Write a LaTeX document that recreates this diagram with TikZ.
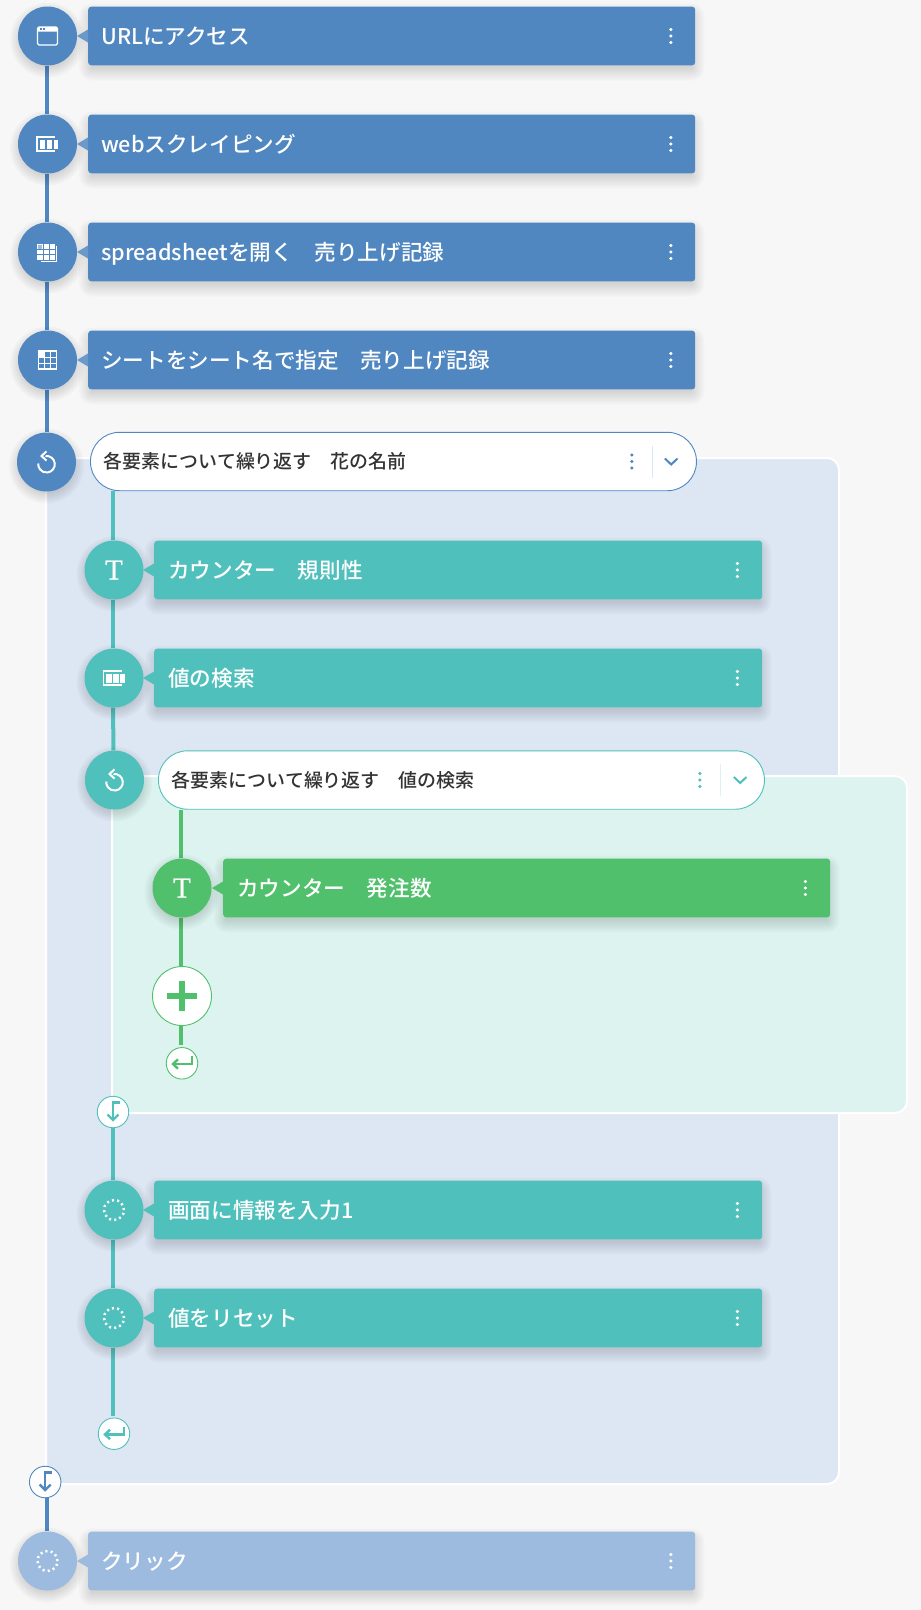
\documentclass[tikz,border=0pt]{standalone}
\usepackage{fontspec}
\setmainfont{Noto Sans CJK JP}
\newfontfamily\jpfont{Noto Sans CJK JP Medium}
\newfontfamily\tfont{Liberation Serif}[FakeBold=0.8]
\usetikzlibrary{backgrounds}
\pgfdeclarelayer{shadowlayer}
\pgfsetlayers{background,shadowlayer,main}
\definecolor{cblue}{HTML}{5087C1}
\definecolor{cteal}{HTML}{50C0BC}
\definecolor{cgreen}{HTML}{51C06C}
\definecolor{clight}{HTML}{9CBBDE}
\definecolor{pblue}{HTML}{DDE6F3}
\definecolor{pgreen}{HTML}{DCF3EF}
\definecolor{cbg}{HTML}{F7F7F7}
\definecolor{ctext}{HTML}{333333}
\tikzset{
  stepnode/.style={circle,fill=#1,draw=none,minimum size=59pt,inner sep=0pt,text=white},
  barnode/.style={rectangle,fill=#1,draw=none,rounded corners=3pt,minimum height=58.6pt,minimum width=607pt,
     inner xsep=13pt,inner ysep=0pt,text width=581pt,align=left,anchor=west,text=white,
     font=\jpfont\fontsize{21.6pt}{24pt}\selectfont,text height=18pt,text depth=2pt},
  tealbar/.style={barnode=#1,minimum width=608pt,inner xsep=14pt,text width=580pt},
  greenbar/.style={barnode=#1,minimum width=607pt,inner xsep=14pt,text width=579pt},
  pillnode/.style={rectangle,fill=white,draw=#1,line width=.9pt,rounded corners=29pt,minimum height=58.4pt,minimum width=606pt,
     inner xsep=13.5pt,inner ysep=0pt,text width=579pt,align=left,anchor=west,text=ctext,
     font=\jpfont\fontsize{18.95pt}{22pt}\selectfont,text height=16pt,text depth=2pt},
  panelnode/.style={rectangle,fill=#1,draw=white,line width=2pt,rounded corners=12pt,inner sep=0pt,anchor=north west},
  smallnode/.style={circle,fill=white,draw=#1,line width=.9pt,minimum size=31.5pt,inner sep=0pt},
  plusnode/.style={circle,fill=white,draw=#1,line width=.9pt,minimum size=59pt,inner sep=0pt},
  conn/.style={draw=#1,line width=4pt},
  iconline/.style={white,line width=1.3pt},
  shadowfill/.style={black,opacity=#1},
}
\newcommand{\barshadow}[1]{\begin{pgfonlayer}{shadowlayer}
  \foreach \k in {-3,-1,1,3,5,7,9}{\pgfmathsetmacro{\rr}{max(\k+4,1)}
   \fill[shadowfill=.02,rounded corners=\rr pt] ([shift={(-\k pt,-\k pt-6pt)}]#1.south west) rectangle ([shift={(\k pt,\k pt-6pt)}]#1.north east);}
\end{pgfonlayer}}
\newcommand{\circshadow}[1]{\begin{pgfonlayer}{shadowlayer}
  \foreach \k in {-2,0,2,4,6,8}{\pgfmathsetmacro{\rr}{29.5+\k}
   \fill[shadowfill=.022] ([yshift=-4pt]#1.center) circle (\rr pt);}
\end{pgfonlayer}}
\newcommand{\kebab}[3]{\foreach \dy in {-6.5,0,6.5}{\fill[#3] ([xshift=#2pt,yshift=\dy pt]#1.east) circle (1.7pt);}}
\newcommand{\pointer}[2]{\fill[#2] ([yshift=6.5pt]#1.west) -- ([xshift=-11pt]#1.west) -- ([yshift=-6.5pt]#1.west) -- cycle;}
\newcommand{\iconwindow}[1]{\begin{scope}[shift={(#1.center)}]
  \draw[iconline,rounded corners=1.5pt] (-10,-9) rectangle (10,9);
  \fill[white,rounded corners=1pt] (-10,4.5) rectangle (10,9);
  \fill[cblue] (-8,6) rectangle (-6,8); \fill[cblue] (-4.5,6) rectangle (-2.5,8);
\end{scope}}
\newcommand{\iconscrape}[1]{\begin{scope}[shift={(#1.center)}]
  \draw[iconline] (7.5,-7) -- (-10.5,-7) -- (-10.5,7) -- (7.5,7);
  \fill[white] (-8,-4.5) rectangle (-2.5,4.5);
  \fill[white] (-1,-4.5) rectangle (4.5,4.5);
  \fill[white] (6,-4.5) rectangle (10.5,4.5);
\end{scope}}
\newcommand{\iconopen}[1]{\begin{scope}[shift={(#1.center)}]
  \draw[white,line width=1pt] (-6.5,-9.5) -- (9,-9.5) -- (9,6);
  \fill[white] (-10.5,-8) rectangle (7.5,8);
  \foreach \gx in {-4.5,1.5}{\fill[cblue] (\gx-.3,-8) rectangle (\gx+.3,8);}
  \foreach \gy in {-2.7,2.7}{\fill[cblue] (-10.5,\gy-.3) rectangle (7.5,\gy+.3);}
  \fill[cblue!55!white] (-9.5,3.5) rectangle (-5.2,7);
\end{scope}}
\newcommand{\icongrid}[1]{\begin{scope}[shift={(#1.center)}]
  \draw[iconline] (-9,-9) rectangle (9,9);
  \foreach \gx in {-3,3}{\draw[white,line width=1pt] (\gx,-9) -- (\gx,9);}
  \foreach \gy in {-3,3}{\draw[white,line width=1pt] (-9,\gy) -- (9,\gy);}
  \fill[white] (-9,3) rectangle (-3.2,9);
\end{scope}}
\newcommand{\iconloop}[1]{\begin{scope}[shift={(#1.center)}]
  \draw[white,line width=2pt] (-1,6) arc[start angle=97,end angle=-185,radius=8.3];
  \draw[white,line width=2pt] (0,10.7) -- (-5,6) -- (0,1.4);
\end{scope}}
\newcommand{\icondots}[1]{\draw[white,line width=2.5pt,dash pattern=on 2pt off 3.23pt] (#1.center) ++(10,0) arc[start angle=0,end angle=360,radius=10];}
\newcommand{\icondown}[2]{\begin{scope}[shift={(#1.center)}]
  \draw[#2,line width=2.4pt] (6.5,9.5) -- (0,9.5) -- (0,-8);
  \draw[#2,line width=2.4pt] (-5.5,-2.5) -- (0,-8) -- (5.5,-2.5);
\end{scope}}
\newcommand{\iconback}[2]{\begin{scope}[shift={(#1.center)}]
  \draw[#2,line width=2.4pt] (10,7) -- (10,-.7) -- (-8.5,-.7);
  \draw[#2,line width=2.4pt] (-4,4) -- (-9,-.7) -- (-4,-5.4);
\end{scope}}
\newcommand{\iconchev}[3]{\draw[#3,line width=2pt] ([xshift=#2pt,yshift=3pt]#1.east) -- ++(6.3,-6) -- ++(6.3,6);}
\begin{document}
\begin{tikzpicture}[x=1pt,y=1pt]
\useasboundingbox (0,0) rectangle (921,-1610);
% top row
\node[stepnode=cblue] (s1) at (47.5,-36) {};
\node[barnode=cblue] (b1) at (88,-36) {URLにアクセス};
\node[stepnode=cblue] (s2) at (47.5,-144) {};
\node[barnode=cblue] (b2) at (88,-144) {webスクレイピング};
\node[stepnode=cblue] (s3) at (47.5,-252) {};
\node[barnode=cblue] (b3) at (88,-252) {spreadsheetを開く　売り上げ記録};
\node[stepnode=cblue] (s4) at (47.5,-360) {};
\node[barnode=cblue] (b4) at (88,-360) {シートをシート名で指定　売り上げ記録};
\node[stepnode=cblue] (s5) at (46.5,-462) {};
\node[pillnode=cblue] (p1) at (90,-461.5) {各要素について繰り返す　花の名前};
% teal row
\node[stepnode=cteal,font=\tfont\fontsize{29pt}{29pt}\selectfont] (t1) at (114,-570) {T};
\node[tealbar=cteal] (tb1) at (154,-570) {カウンター　規則性};
\node[stepnode=cteal] (t2) at (114,-678) {};
\node[tealbar=cteal] (tb2) at (154,-678) {値の検索};
\node[stepnode=cteal] (t3) at (114.5,-780) {};
\node[pillnode=cteal] (p2) at (158,-780) {各要素について繰り返す　値の検索};
% green
\node[stepnode=cgreen,font=\tfont\fontsize{29pt}{29pt}\selectfont] (g1) at (182,-888) {T};
\node[greenbar=cgreen] (gb1) at (223,-888) {カウンター　発注数};
\node[plusnode=cgreen] (plus) at (182,-996) {};
\node[smallnode=cgreen] (gret) at (182,-1063.3) {};
\node[smallnode=cteal] (tdown) at (113,-1112) {};
\node[stepnode=cteal] (t4) at (114,-1210) {};
\node[tealbar=cteal] (tb4) at (154,-1210) {画面に情報を入力1};
\node[stepnode=cteal] (t5) at (114,-1318) {};
\node[tealbar=cteal] (tb5) at (154,-1318) {値をリセット};
\node[smallnode=cteal] (tret) at (114,-1433.7) {};
\node[smallnode=cblue] (bdown) at (45.2,-1482) {};
\node[stepnode=clight] (s6) at (47.5,-1561) {};
\node[barnode=clight] (b6) at (88,-1561) {クリック};
% shadows
\barshadow{b1}\barshadow{b2}\barshadow{b3}\barshadow{b4}\barshadow{b6}
\barshadow{tb1}\barshadow{tb2}\barshadow{tb4}\barshadow{tb5}\barshadow{gb1}
\circshadow{s1}\circshadow{s2}\circshadow{s3}\circshadow{s4}\circshadow{s5}\circshadow{s6}
\circshadow{t1}\circshadow{t2}\circshadow{t3}\circshadow{t4}\circshadow{t5}\circshadow{g1}
% panels and connectors, behind the nodes
\begin{scope}[on background layer]
 \fill[cbg] (0,0) rectangle (921,-1610);
 \draw[conn=cblue] ([xshift=-.5pt]s1.south) -- ([xshift=-.5pt]s2.north);
 \draw[conn=cblue] ([xshift=-.5pt]s2.south) -- ([xshift=-.5pt]s3.north);
 \draw[conn=cblue] ([xshift=-.5pt]s3.south) -- ([xshift=-.5pt]s4.north);
 \draw[conn=cblue] ([xshift=-.5pt]s4.south) -- ([xshift=.5pt]s5.north);
 \draw[conn=cblue] ([xshift=-.5pt]s6.center |- bdown.south) -- ([xshift=-.5pt]s6.north);
 \node[panelnode=pblue,minimum width=793pt,minimum height=1026pt] (panelA) at (45,-457) {};
 \draw[conn=cteal] ([xshift=-1pt]t1.center |- p1.south) -- ([xshift=-1pt]t1.north);
 \draw[conn=cteal] ([xshift=-1pt]t1.south) -- ([xshift=-1pt]t2.north);
 \draw[conn=cteal] ([xshift=-1pt]t2.south) -- ([xshift=-1pt]t3.north);
 \draw[conn=cteal] (tdown.south) -- ([xshift=-1pt]t4.north);
 \draw[conn=cteal] ([xshift=-1pt]t4.south) -- ([xshift=-1pt]t5.north);
 \draw[conn=cteal] ([xshift=-1pt]t5.south) -- ([xshift=-1pt,yshift=2pt]tret.north);
 \node[panelnode=pgreen,minimum width=795pt,minimum height=337pt] (panelB) at (111,-775) {};
 \draw[conn=cgreen] ([xshift=-1pt]g1.center |- p2.south) -- ([xshift=-1pt]g1.north);
 \draw[conn=cgreen] ([xshift=-1pt]g1.south) -- ([xshift=-1pt]plus.north);
 \draw[conn=cgreen] ([xshift=-1pt]plus.south) -- ([xshift=-1pt,yshift=2pt]gret.north);
\end{scope}
% pointers
\pointer{b1}{cblue!85!white}\pointer{b2}{cblue!85!white}\pointer{b3}{cblue!85!white}\pointer{b4}{cblue!85!white}
\pointer{b6}{clight}
\pointer{tb1}{cteal}\pointer{tb2}{cteal}\pointer{tb4}{cteal}\pointer{tb5}{cteal}
\pointer{gb1}{cgreen}
% kebabs
\kebab{b1}{-24.5}{white}\kebab{b2}{-24.5}{white}\kebab{b3}{-24.5}{white}\kebab{b4}{-24.5}{white}\kebab{b6}{-24.5}{white}
\kebab{tb1}{-25}{white}\kebab{tb2}{-25}{white}\kebab{tb4}{-25}{white}\kebab{tb5}{-25}{white}\kebab{gb1}{-25}{white}
\kebab{p1}{-65}{cblue}\kebab{p2}{-65}{cteal}
% pill dividers + chevrons
\draw[cblue!20!white,line width=.9pt] ([xshift=-44pt,yshift=16pt]p1.east) -- ([xshift=-44pt,yshift=-16pt]p1.east);
\draw[cteal!20!white,line width=.9pt] ([xshift=-44pt,yshift=16pt]p2.east) -- ([xshift=-44pt,yshift=-16pt]p2.east);
\iconchev{p1}{-32}{cblue}
\iconchev{p2}{-31}{cteal}
% icons
\iconwindow{s1}\iconscrape{s2}\iconopen{s3}\icongrid{s4}
\iconloop{s5}\iconloop{t3}
\iconscrape{t2}
\icondots{t4}\icondots{t5}\icondots{s6}
\fill[cgreen] ([xshift=-15pt,yshift=-3.2pt]plus.center) rectangle ([xshift=15pt,yshift=3.2pt]plus.center);
\fill[cgreen] ([xshift=-3.2pt,yshift=-15pt]plus.center) rectangle ([xshift=3.2pt,yshift=15pt]plus.center);
\iconback{gret}{cgreen}\iconback{tret}{cteal}
\icondown{tdown}{cteal}\icondown{bdown}{cblue}
\end{tikzpicture}
\end{document}
